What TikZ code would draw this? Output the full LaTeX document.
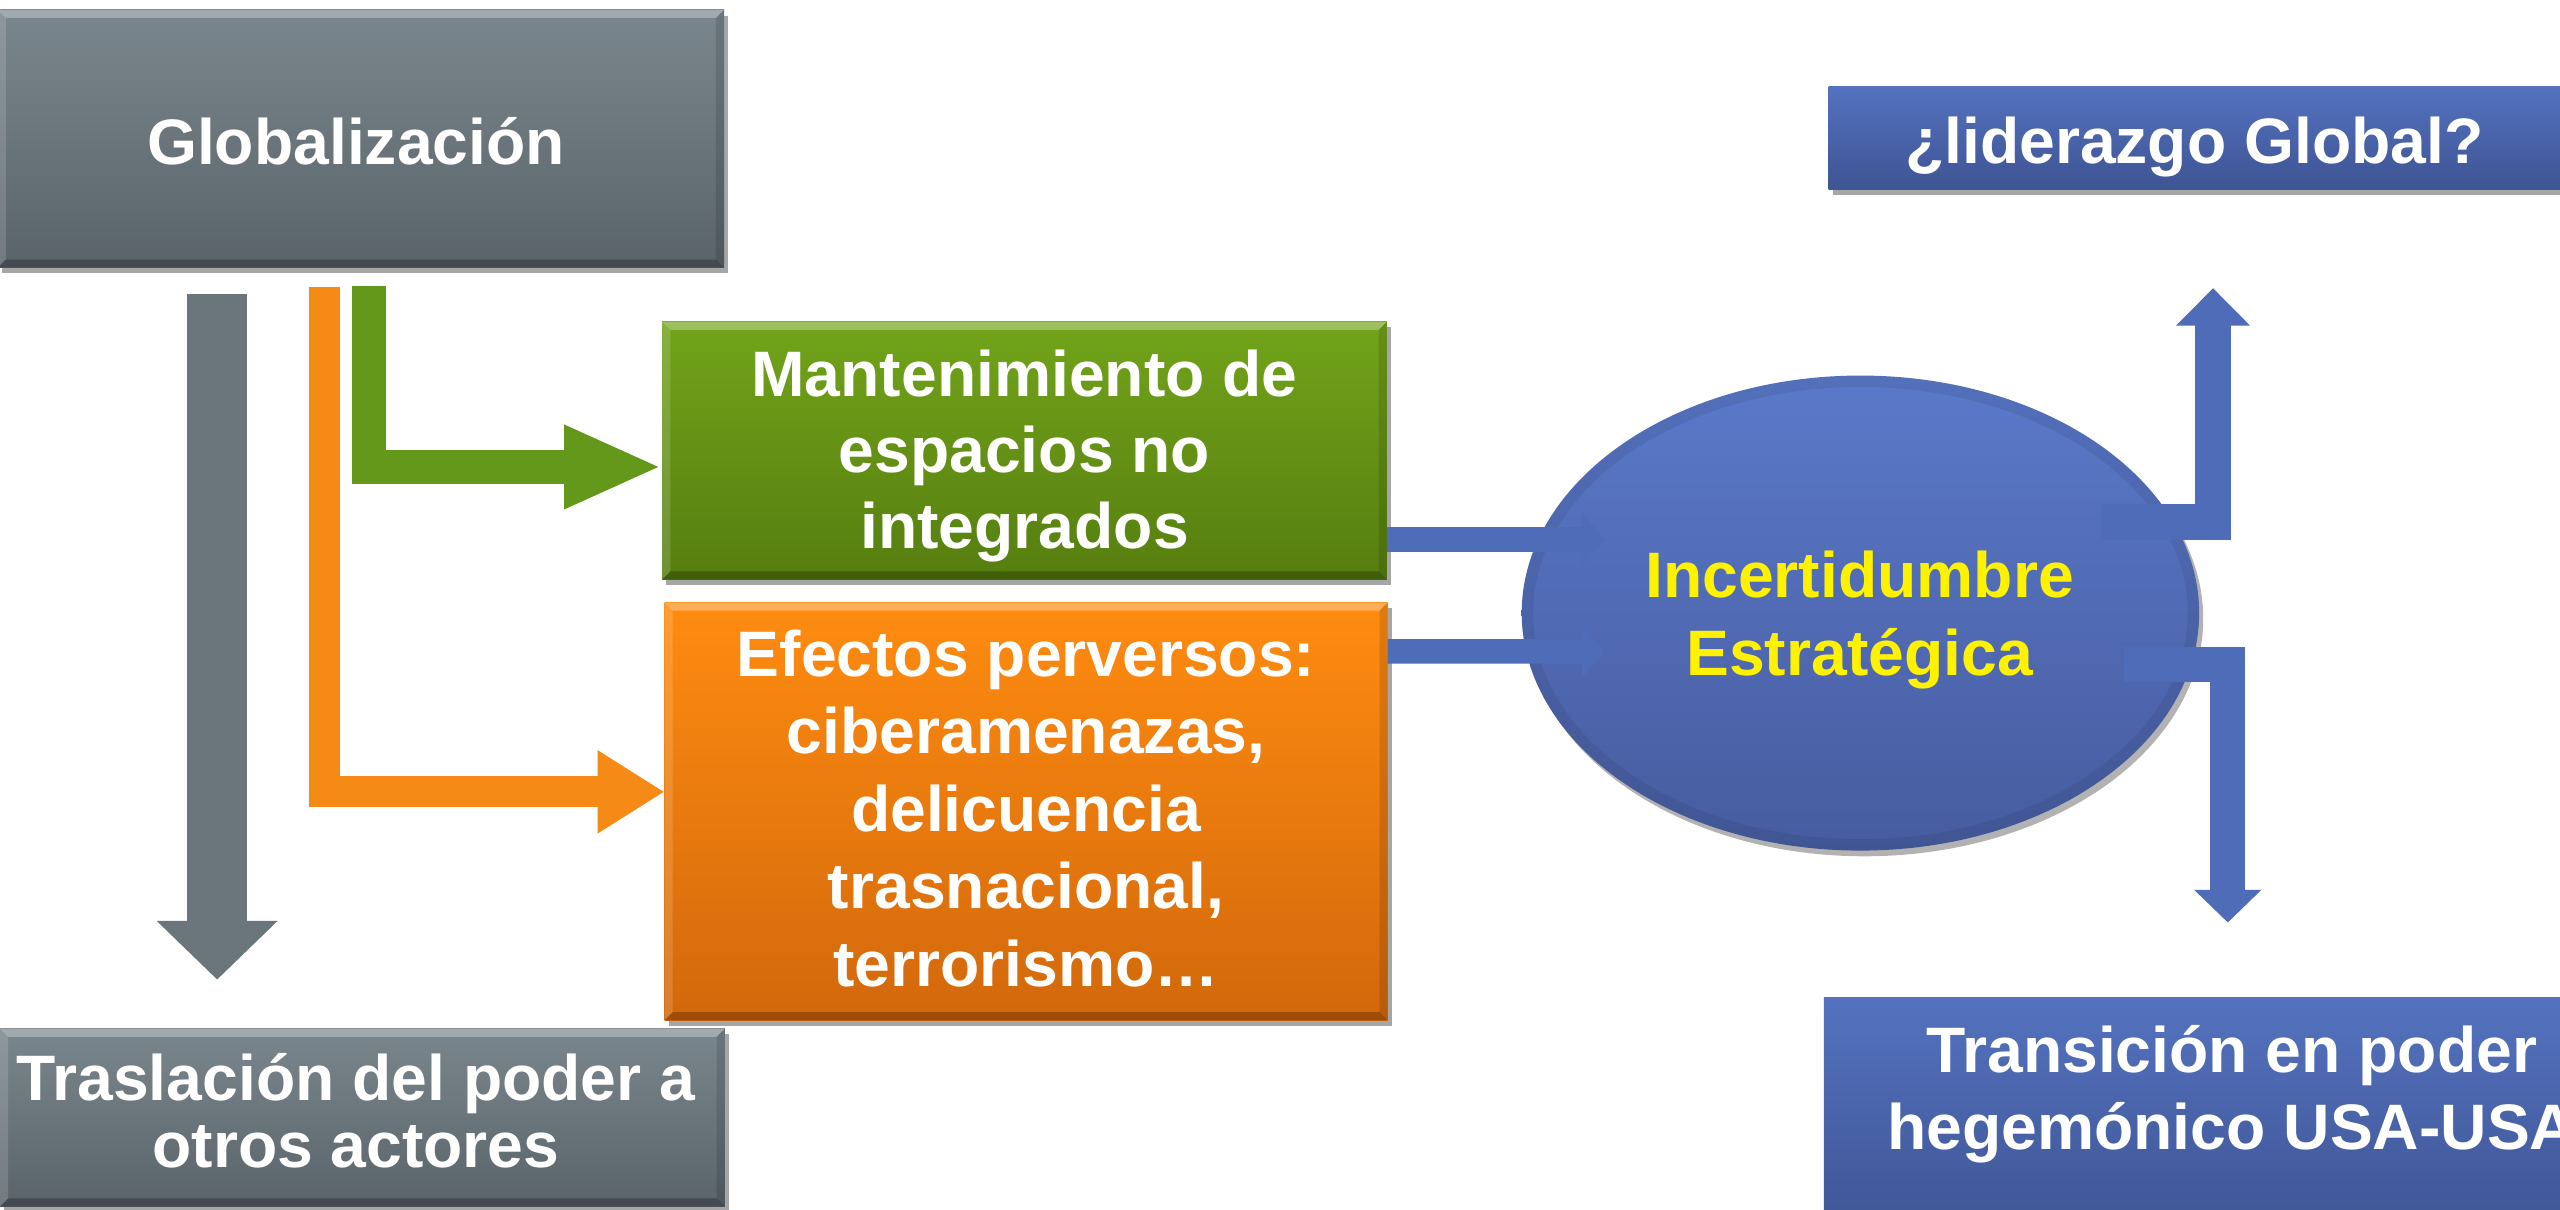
\documentclass[tikz,border=0pt]{standalone}
\usepackage{fontspec}
\setmainfont{Liberation Sans}
\usetikzlibrary{arrows.meta,calc,shapes.geometric,shadows}
\definecolor{grayT}{HTML}{7A868D}
\definecolor{grayB}{HTML}{5A636A}
\definecolor{grayA}{HTML}{6A757C}
\definecolor{greenT}{HTML}{72A41A}
\definecolor{greenB}{HTML}{567E10}
\definecolor{greenA}{HTML}{64981A}
\definecolor{orangeT}{HTML}{FF8C10}
\definecolor{orangeB}{HTML}{D2680C}
\definecolor{orangeA}{HTML}{F58A16}
\definecolor{blueT}{HTML}{5472BF}
\definecolor{blueB}{HTML}{3E5493}
\definecolor{blueA}{HTML}{4F6CB9}
\definecolor{ellT}{HTML}{5A79C9}
\definecolor{ellB}{HTML}{475C9F}
\newcommand\mybevel[2][5]{%
 \fill[white,opacity=0.3] (#2.north west) -- (#2.north east) -- ($(#2.north east)+(-#1,#1)$) -- ($(#2.north west)+(#1,#1)$) -- cycle;
 \fill[white,opacity=0.15] (#2.north west) -- ($(#2.north west)+(#1,#1)$) -- ($(#2.south west)+(#1,-#1)$) -- (#2.south west) -- cycle;
 \fill[black,opacity=0.12] (#2.north east) -- ($(#2.north east)+(-#1,#1)$) -- ($(#2.south east)+(-#1,-#1)$) -- (#2.south east) -- cycle;
 \fill[black,opacity=0.25] (#2.south west) -- ($(#2.south west)+(#1,-#1)$) -- ($(#2.south east)+(-#1,-#1)$) -- (#2.south east) -- cycle;
}
\begin{document}
\begin{tikzpicture}[x=0.02cm,y=-0.02cm,
  box/.style={rectangle, inner sep=0pt, outer sep=0pt,
    drop shadow={shadow xshift=0.05cm, shadow yshift=-0.07cm, opacity=0.35, fill=black}},
  graybox/.style={box, top color=grayT, bottom color=grayB},
  greenbox/.style={box, top color=greenT, bottom color=greenB},
  orangebox/.style={box, top color=orangeT, bottom color=orangeB},
  bluebox/.style={box, top color=blueT, bottom color=blueB},
  txt/.style={text=white, align=center, anchor=base, inner sep=0pt, outer sep=0pt},
  fs/.style={font=\bfseries\fontsize{22.4pt}{#1}\selectfont},
  blockarrow/.style={line join=miter, line cap=butt}
]
\useasboundingbox (0,0) rectangle (1568,741);
\fill[white] (0,0) rectangle (1568,741);

% boxes
\node[graybox, minimum width=8.9cm, minimum height=3.16cm] (glob) at (221,85) {};
\mybevel{glob}
\node[graybox, minimum width=8.88cm, minimum height=2.18cm] (trasl) at (222,684.5) {};
\mybevel{trasl}
\node[greenbox, minimum width=8.88cm, minimum height=3.16cm] (green) at (627.5,276) {};
\mybevel{green}
\node[orangebox, minimum width=8.86cm, minimum height=5.12cm] (orange) at (628.5,497) {};
\mybevel{orange}
\node[bluebox, minimum width=9cm, minimum height=1.26cm] (lid) at (1345,84.5) {};
\node[bluebox, minimum width=10cm, minimum height=2.98cm] (trans) at (1367,685.5) {};
\node[ellipse, inner sep=0pt, outer sep=0pt, top color=ellT, bottom color=ellB,
  minimum width=8.3cm, minimum height=5.82cm,
  drop shadow={shadow xshift=0.05cm, shadow yshift=-0.07cm, opacity=0.3, fill=black}] (ell) at (1139.5,375.5) {};
\draw[black, opacity=0.07, line width=0.14cm] (ell.center) ellipse [x radius=4.08cm, y radius=2.84cm];

% connector coordinates
\coordinate (gx) at (133,0);
\coordinate (ox) at (198.5,0);
\coordinate (gnx) at (226,0);
\coordinate (uptip) at ($(lid.south)+(10.5,60.5)$);
\coordinate (dntip) at ($(trans.north)+(-2.5,-46)$);

% gray arrow
\draw[blockarrow, draw=grayA, line width=0.74cm, -{Triangle[length=0.72cm,width=1.44cm]},
  shorten <=0.32cm, shorten >=0.6cm] (glob.south -| gx) -- (trasl.north -| gx);
% orange L arrow
\draw[blockarrow, draw=orangeA, line width=0.38cm, -{Triangle[length=0.82cm,width=0.96cm]},
  shorten <=0.24cm] (glob.south -| ox) |- ($(orange.west)+(0,-12)$);
% green L arrow
\draw[blockarrow, draw=greenA, line width=0.41cm, -{Triangle[length=1.2cm,width=0.94cm]},
  shorten <=0.22cm] (glob.south -| gnx) |- ($(green.west)+(0,10)$);
% blue arrows into ellipse
\draw[blockarrow, draw=blueA, line width=0.3cm, -{Triangle[length=0.28cm,width=0.64cm]}]
  ($(green.east)+(0,54.5)$) -- ($(ell.center)+(-156.5,-45)$);
\draw[blockarrow, draw=blueA, line width=0.3cm, -{Triangle[length=0.28cm,width=0.62cm]}]
  ($(orange.east)+(0,-98)$) -- ($(ell.center)+(-156.5,23.5)$);
% blue arrows out of ellipse
\draw[blockarrow, draw=blueA, line width=0.44cm, -{Triangle[length=0.46cm,width=0.88cm]}]
  ($(ell.center)+(147.5,-56)$) -| (uptip);
\draw[blockarrow, draw=blueA, line width=0.43cm, -{Triangle[length=0.4cm,width=0.8cm]}]
  ($(ell.center)+(161.5,31.5)$) -| (dntip);

% texts (anchor base = baseline of the last line)
\node[txt, fs=26.75pt] (globt) at (218,101) {Globalización};
\node[txt, fs=23.3pt] (traslt) at (218,715) {Traslación del poder a\\otros actores};
\node[txt, fs=26.46pt] (greent) at (627.5,336) {Mantenimiento de\\espacios no\\integrados};
\node[txt, fs=27pt] (oranget) at (628.5,604) {Efectos perversos:\\ciberamenazas,\\delicuencia\\trasnacional,\\terrorismo…};
\node[txt, fs=27.3pt, text=yellow] (ellt) at (1139,414) {Incertidumbre\\Estratégica};
\node[txt, fs=26.75pt] (lidt) at (1344,100) {¿liderazgo Global?};
\node[txt, fs=26.75pt] (transt) at (1367,704) {Transición en poder\\hegemónico USA-USA};
\end{tikzpicture}
\end{document}
